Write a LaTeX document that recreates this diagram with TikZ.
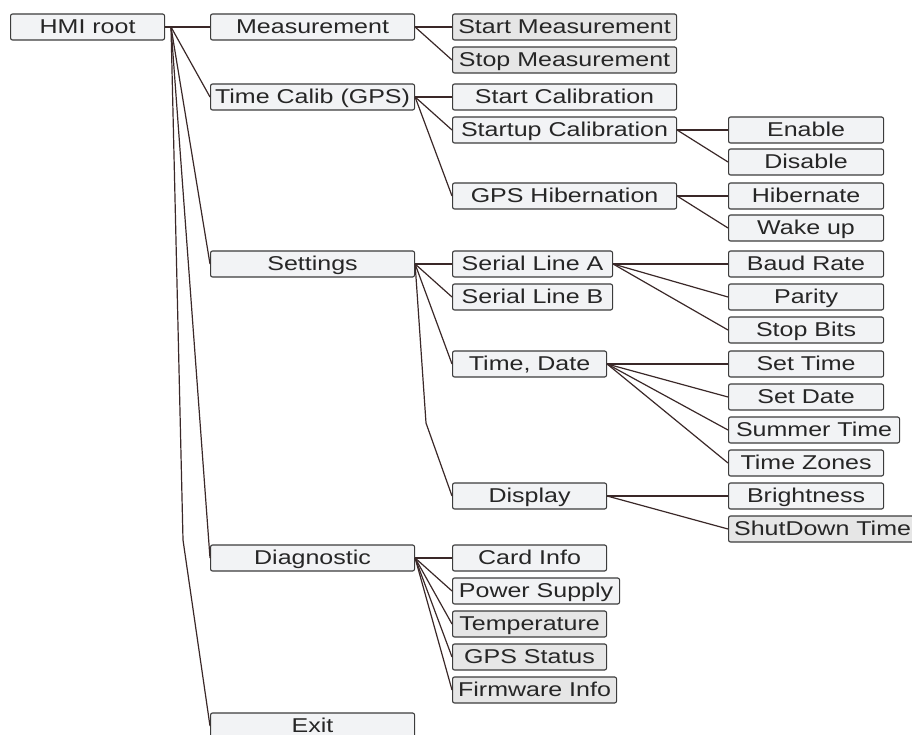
\documentclass[tikz,border=0pt]{standalone}
\usepackage{fontspec}
\setmainfont{Liberation Sans}[FakeStretch=1.25]
\definecolor{boxfill}{HTML}{F2F3F5}
\definecolor{boxfilldark}{HTML}{E6E6E6}
\definecolor{boxline}{HTML}{3C3C3C}
\definecolor{wire}{HTML}{3A2828}
\begin{document}
\begin{tikzpicture}[x=1pt,y=-1pt,
  box/.style={draw=boxline, fill=boxfill, line width=1.1pt, rounded corners=2pt,
    minimum height=26pt, inner sep=0pt, anchor=west, text=black!85,
    text height=14pt, text depth=1pt,
    font=\fontsize{20}{21}\selectfont},
  boxd/.style={box, fill=boxfilldark},
  wire/.style={draw=wire, line width=1.2pt, line join=round}]
\useasboundingbox (0,0) rectangle (912,735);
% level 0
\node[box, minimum width=154pt] (root) at (10,27) {HMI root};
% level 1
\node[box, minimum width=204pt] (meas) at (210,27) {Measurement};
\node[box, minimum width=204pt] (tcal) at (210,97) {Time Calib (GPS)};
\node[box, minimum width=204pt] (sett) at (210,264) {Settings};
\node[box, minimum width=204pt] (diag) at (210,558) {Diagnostic};
\node[box, minimum width=204pt] (exit) at (210,726) {Exit};
% level 2
\node[boxd, minimum width=224pt] (startm) at (452,27) {Start Measurement};
\node[boxd, minimum width=224pt] (stopm) at (452,60) {Stop Measurement};
\node[box, minimum width=224pt] (startc) at (452,97) {Start Calibration};
\node[box, minimum width=224pt] (startupc) at (452,130) {Startup Calibration};
\node[box, minimum width=224pt] (gpshib) at (452,196) {GPS Hibernation};
\node[box, minimum width=160pt] (sera) at (452,264) {Serial Line A};
\node[box, minimum width=160pt] (serb) at (452,297) {Serial Line B};
\node[box, minimum width=154pt] (tdate) at (452,364) {Time, Date};
\node[box, minimum width=154pt] (disp) at (452,496) {Display};
\node[box, minimum width=154pt] (card) at (452,558) {Card Info};
\node[box, minimum width=167pt] (power) at (452,591) {Power Supply};
\node[boxd, minimum width=154pt] (temp) at (452,624) {Temperature};
\node[boxd, minimum width=154pt] (gpss) at (452,657) {GPS Status};
\node[boxd, minimum width=164pt] (firm) at (452,690) {Firmware Info};
% level 3
\node[box, minimum width=155pt] (enable) at (728,130) {Enable};
\node[box, minimum width=155pt] (disable) at (728,162) {Disable};
\node[box, minimum width=155pt] (hiber) at (728,196) {Hibernate};
\node[box, minimum width=155pt] (wake) at (728,228) {Wake up};
\node[box, minimum width=155pt] (baud) at (728,264) {Baud Rate};
\node[box, minimum width=155pt] (parity) at (728,297) {Parity};
\node[box, minimum width=155pt] (stopb) at (728,330) {Stop Bits};
\node[box, minimum width=155pt] (settime) at (728,364) {Set Time};
\node[box, minimum width=155pt] (setdate) at (728,397) {Set Date};
\node[box, minimum width=171pt] (summer) at (728,430) {Summer Time};
\node[box, minimum width=155pt] (tzones) at (728,463) {Time Zones};
\node[box, minimum width=155pt] (bright) at (728,496) {Brightness};
\node[boxd, minimum width=188pt] (shut) at (728,529) {ShutDown Time};
% helper coordinates
\coordinate (rf) at (171,27);
\coordinate (kexit) at (183,540);
\coordinate (kdisp) at (426,423);
% connectors
\draw[wire] (root.east) -- (meas.west);
\draw[wire] (rf) -- (tcal.west);
\draw[wire] (rf) -- (sett.west);
\draw[wire] (rf) -- (diag.west);
\draw[wire] (rf) -- (kexit) -- (exit.west);
\draw[wire] (meas.east) -- (startm.west);
\draw[wire] (meas.east) -- (stopm.west);
\draw[wire] (tcal.east) -- (startc.west);
\draw[wire] (tcal.east) -- (startupc.west);
\draw[wire] (tcal.east) -- (gpshib.west);
\draw[wire] (startupc.east) -- (enable.west);
\draw[wire] (startupc.east) -- (disable.west);
\draw[wire] (gpshib.east) -- (hiber.west);
\draw[wire] (gpshib.east) -- (wake.west);
\draw[wire] (sett.east) -- (sera.west);
\draw[wire] (sett.east) -- (serb.west);
\draw[wire] (sett.east) -- (tdate.west);
\draw[wire] (sett.east) -- (kdisp) -- (disp.west);
\draw[wire] (sera.east) -- (baud.west);
\draw[wire] (sera.east) -- (parity.west);
\draw[wire] (sera.east) -- (stopb.west);
\draw[wire] (tdate.east) -- (settime.west);
\draw[wire] (tdate.east) -- (setdate.west);
\draw[wire] (tdate.east) -- (summer.west);
\draw[wire] (tdate.east) -- (tzones.west);
\draw[wire] (disp.east) -- (bright.west);
\draw[wire] (disp.east) -- (shut.west);
\draw[wire] (diag.east) -- (card.west);
\draw[wire] (diag.east) -- (power.west);
\draw[wire] (diag.east) -- (temp.west);
\draw[wire] (diag.east) -- (gpss.west);
\draw[wire] (diag.east) -- (firm.west);
\end{tikzpicture}
\end{document}
